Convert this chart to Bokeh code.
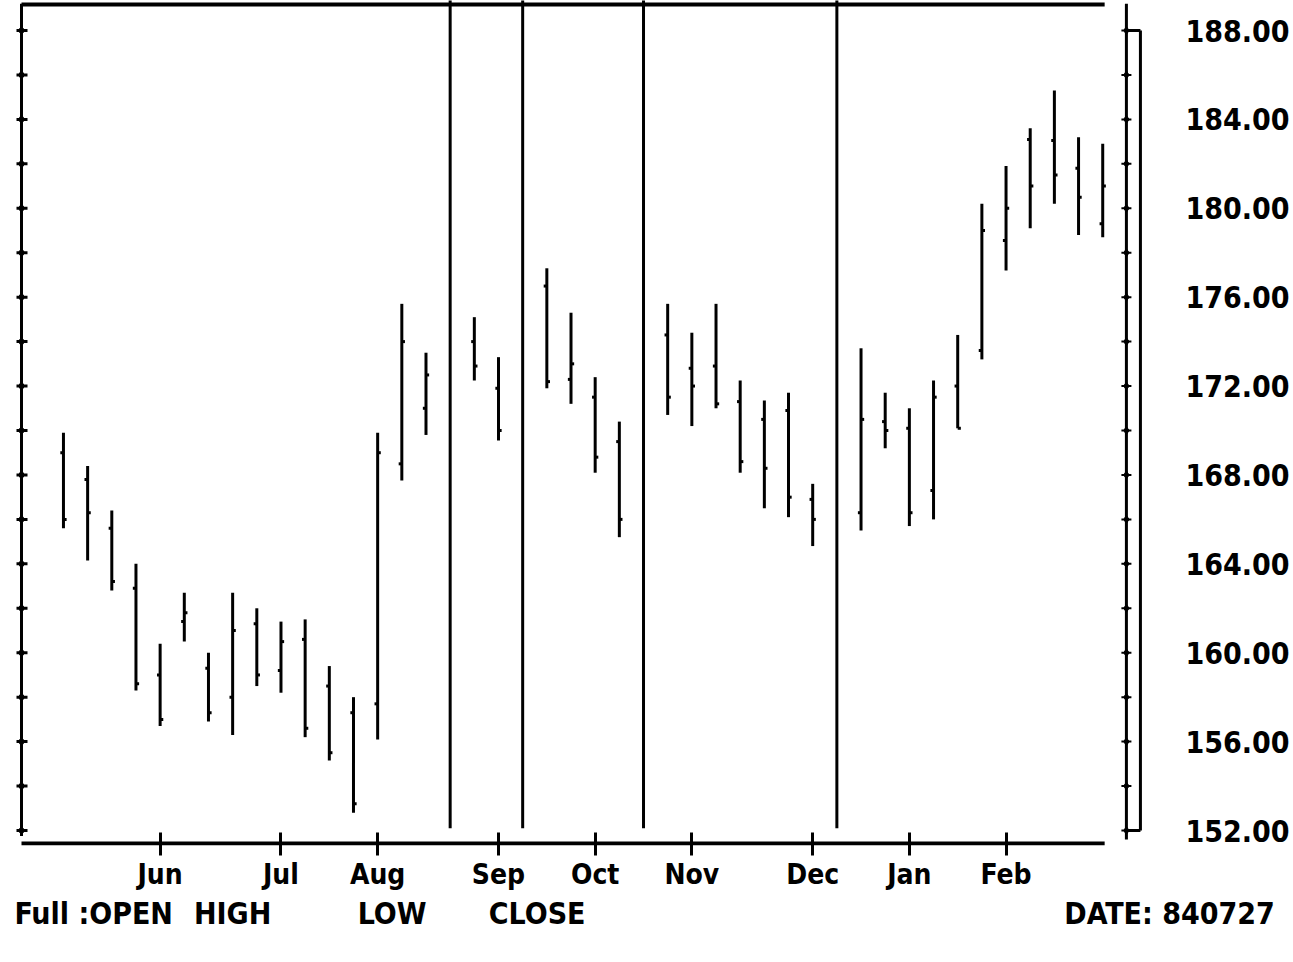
from bokeh.plotting import figure
from bokeh.models import Range1d, LinearAxis, FixedTicker, NumeralTickFormatter
from bokeh.embed import file_html
from bokeh.resources import INLINE
import numpy as np

# ---- data (weekly bars, index 0..43) ----
week = list(range(44))
high = [169.9, 168.4, 166.4, 164.0, 160.4, 162.7, 160.0, 162.7, 162.0, 161.4,
        161.5, 159.4, 158.0, 169.9, 175.7, 173.5, 189.5, 175.1, 173.3, 189.5,
        177.3, 175.3, 172.4, 170.4, 189.5, 175.7, 174.4, 175.7, 172.25, 171.35,
        171.7, 167.6, 189.5, 173.7, 171.7, 171.0, 172.25, 174.3, 180.2, 181.9,
        183.6, 185.3, 183.2, 182.9]
low = [165.6, 164.15, 162.8, 158.3, 156.7, 160.5, 156.9, 156.3, 158.5, 158.2,
       156.2, 155.15, 152.8, 156.1, 167.75, 169.8, 152.1, 172.25, 169.55, 152.1,
       171.9, 171.2, 168.1, 165.2, 152.1, 170.7, 170.2, 171.0, 168.1, 166.5,
       166.1, 164.8, 152.1, 165.5, 169.2, 165.7, 166.0, 170.1, 173.2, 177.2,
       179.1, 180.2, 178.8, 178.7]
open_ = [169.0, 167.8, 165.6, 162.9, 159.0, 161.4, 159.3, 158.0, 161.3, 159.2,
         160.6, 158.5, 157.3, 157.7, 168.5, 171.0, None, 174.0, 171.9, None,
         176.5, 172.3, 171.5, 169.5, None, 174.3, 172.8, 172.9, 171.3, 170.5,
         170.9, 166.9, None, 166.3, 170.4, 170.1, 167.3, 172.0, 173.6, 178.55,
         183.1, 183.05, 181.8, 179.3]
close = [166.0, 166.3, 163.2, 158.6, 157.0, 161.8, 157.3, 161.0, 159.0, 160.5,
         156.6, 155.5, 153.2, 169.0, 174.0, 172.5, None, 172.9, 170.0, None,
         172.2, 173.0, 168.8, 166.0, None, 171.5, 172.0, 171.2, 168.6, 168.3,
         167.0, 166.0, None, 170.5, 170.0, 166.3, 171.5, 170.1, 179.0, 180.0,
         181.0, 181.5, 180.5, 181.0]
month_pos = [4, 9, 13, 18, 22, 26, 31, 35, 39]
month_labels = ["Jun", "Jul", "Aug", "Sep", "Oct", "Nov", "Dec", "Jan", "Feb"]
price_ticks = list(range(152, 189, 4))
minor_price_ticks = list(range(152, 189, 2))
footer_pos = [1.25, 7.0, 13.6, 19.6, 44.6]
footer_texts = ["Full :OPEN", "HIGH", "LOW", "CLOSE", "\u00a0" * 6 + "DATE: 840727"]

FONT = "DejaVu Sans Condensed, DejaVu Sans, sans-serif"

X0, X1 = -1.943, 44.77
Y0, Y1 = 151.325, 189.35
W = 1292

p = figure(width=W, height=950, x_range=Range1d(X0, X1), y_range=Range1d(Y0, Y1),
           output_backend="svg", toolbar_location=None, y_axis_location=None,
           min_border_left=16, min_border_right=146, min_border_top=0, min_border_bottom=105)
p.grid.visible = False
p.outline_line_color = None
p.background_fill_color = "white"
p.border_fill_color = "white"

# bottom axis (month ticks)
xa = p.xaxis[0]
xa.ticker = FixedTicker(ticks=month_pos)
xa.major_label_overrides = {m: lab for m, lab in zip(month_pos, month_labels)}
xa.axis_line_color = None
xa.major_tick_in = 13
xa.major_tick_out = 10
xa.major_tick_line_width = 3
xa.major_tick_line_color = "black"
xa.minor_tick_line_color = None
xa.major_label_text_font = FONT
xa.major_label_text_font_style = "bold"
xa.major_label_text_font_size = "28px"
xa.major_label_text_color = "black"
xa.major_label_standoff = 2

# second bottom axis: the footer line (field names and date)
fa = LinearAxis(ticker=FixedTicker(ticks=footer_pos))
fa.major_label_overrides = {fp: t for fp, t in zip(footer_pos, footer_texts)}
fa.axis_line_color = None
fa.major_tick_line_color = None
fa.minor_tick_line_color = None
fa.major_tick_in = 0
fa.major_tick_out = 0
fa.major_label_standoff = 2
fa.major_label_text_font = FONT
fa.major_label_text_font_style = "bold"
fa.major_label_text_font_size = "30px"
fa.major_label_text_color = "black"
p.add_layout(fa, "below")

# right axis with price labels
ra = LinearAxis(ticker=FixedTicker(ticks=price_ticks),
                formatter=NumeralTickFormatter(format="0.00"))
ra.axis_line_color = None
ra.major_tick_line_color = None
ra.minor_tick_line_color = None
ra.major_tick_in = 0
ra.major_tick_out = 0
ra.major_label_standoff = 40
ra.major_label_text_font = FONT
ra.major_label_text_font_style = "bold"
ra.major_label_text_font_size = "30px"
ra.major_label_text_color = "black"
p.add_layout(ra, "right")

# frame decorations: left axis, baseline, top line, right bracket
xL = -1.736
x_end = 43.08
base_y = 151.415
top_y = 189.17
p.segment(x0=[xL, xL, xL], y0=[base_y, top_y, 151.75], x1=[x_end, x_end, xL],
          y1=[base_y, top_y, 189.2], line_color="black", line_width=[4, 4, 3])
p.scatter(x=[xL] * len(minor_price_ticks), y=minor_price_ticks, marker="diamond",
          size=9, color="black")
p.scatter(x=[xL] * len(minor_price_ticks), y=minor_price_ticks, marker="dash",
          size=12, line_width=3, color="black")
xA, xB = 43.98, 44.56
p.segment(x0=[xA, xB, xA, xA], y0=[151.6, price_ticks[0], price_ticks[-1], price_ticks[0]],
          x1=[xA, xB, xB, xB], y1=[189.2, price_ticks[-1], price_ticks[-1], price_ticks[0]],
          line_color="black", line_width=3)
p.scatter(x=[xA] * len(minor_price_ticks), y=minor_price_ticks, marker="diamond",
          size=8, color="black")
p.scatter(x=[xA] * len(minor_price_ticks), y=minor_price_ticks, marker="dash",
          size=10, line_width=2, color="black")

# OHLC bars
w = np.array(week, dtype=float)
o = np.array([np.nan if v is None else v for v in open_])
c = np.array([np.nan if v is None else v for v in close])
p.segment(x0=w, y0=low, x1=w, y1=high, line_color="black", line_width=3)
p.segment(x0=w - 0.13, y0=o, x1=w, y1=o, line_color="black", line_width=3)
p.segment(x0=w, y0=c, x1=w + 0.13, y1=c, line_color="black", line_width=3)

open("out.html", "w").write(file_html(p, INLINE))
